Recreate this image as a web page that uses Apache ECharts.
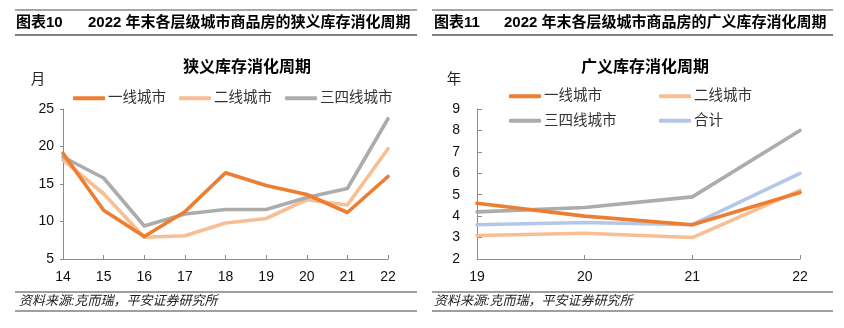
<!DOCTYPE html>
<html>
<head>
<meta charset="utf-8">
<script src="https://cdn.jsdelivr.net/npm/echarts@6/dist/echarts.min.js"></script>
<style>
html,body{margin:0;padding:0;background:#fff;}
#chart{width:844px;height:328px;}
</style>
</head>
<body>
<div id="chart"></div>
<script>
// ---- data ----
var yearsNarrow = ['14', '15', '16', '17', '18', '19', '20', '21', '22'];
var tier1Narrow = [19.1, 11.5, 8.0, 11.3, 16.5, 14.8, 13.6, 11.2, 16.0];
var tier2Narrow = [18.2, 13.7, 7.9, 8.1, 9.8, 10.4, 12.9, 12.2, 19.7];
var tier34Narrow = [18.6, 15.8, 9.4, 11.0, 11.6, 11.6, 13.2, 14.4, 23.7];

var yearsBroad = ['19', '20', '21', '22'];
var tier1Broad = [4.6, 4.0, 3.6, 5.1];
var tier2Broad = [3.1, 3.2, 3.0, 5.2];
var tier34Broad = [4.2, 4.4, 4.9, 8.0];
var totalBroad = [3.6, 3.7, 3.6, 6.0];

var colors = {'一线城市': '#ED7D31', '二线城市': '#F8BE94', '三四线城市': '#ACACAC', '合计': '#B4C7E7'};

var FONT = '"Liberation Sans", "Noto Sans CJK SC", sans-serif';
var axisColor = '#8C8C8C';

function lineSeries(name, data, gi) {
  return {
    type: 'line', name: name, data: data,
    xAxisIndex: gi, yAxisIndex: gi,
    symbol: 'none', smooth: false,
    lineStyle: {width: 3.6, color: colors[name], cap: 'round', join: 'round'},
    itemStyle: {color: colors[name]},
    emphasis: {disabled: true}
  };
}

function legendCfg(data, left, top, orient, gap) {
  return {
    data: data, left: left, top: top, orient: orient || 'horizontal',
    itemGap: gap, itemWidth: 32, itemHeight: 4, icon: 'roundRect',
    textStyle: {fontSize: 14.5, color: '#333', fontFamily: FONT, padding: [0, 0, 0, -2]},
    selectedMode: false
  };
}

var chart = echarts.init(document.getElementById('chart'), null, {renderer: 'canvas'});

var graphics = [];
function hline(x1, x2, y, color, w) {
  graphics.push({type: 'line', shape: {x1: x1, y1: y, x2: x2, y2: y}, style: {stroke: color, lineWidth: w}, silent: true});
}
function text(t, x, y, opts) {
  var st = {text: t, x: x, y: y, fill: opts.fill || '#000', fontSize: opts.size || 14,
            fontFamily: FONT, fontWeight: opts.weight || 'normal', fontStyle: opts.style || 'normal',
            align: opts.align || 'left', verticalAlign: 'middle'};
  graphics.push({type: 'text', style: st, silent: true});
}
// headers
hline(15, 417, 10, '#A6A6A6', 2);
hline(15, 417, 35, '#595959', 1.5);
hline(432, 833, 10, '#A6A6A6', 2);
hline(432, 833, 35, '#595959', 1.5);
text('图表10', 16, 22.5, {size: 15, weight: 'bold'});
text('2022 年末各层级城市商品房的狭义库存消化周期', 88, 22.5, {size: 15, weight: 'bold'});
text('图表11', 434, 22.5, {size: 15, weight: 'bold'});
text('2022 年末各层级城市商品房的广义库存消化周期', 504, 22.5, {size: 15, weight: 'bold'});
// chart titles
text('狭义库存消化周期', 247, 68, {size: 16, weight: 'bold', align: 'center'});
text('广义库存消化周期', 645, 68, {size: 16, weight: 'bold', align: 'center'});
// units
text('月', 38, 80, {size: 14.5, align: 'center', fill: '#222'});
text('年', 454, 80, {size: 14.5, align: 'center', fill: '#222'});
// footers
hline(15, 417, 292, '#404040', 1.2);
hline(15, 417, 311, '#404040', 1.2);
hline(432, 833, 292, '#404040', 1.2);
hline(432, 833, 311, '#404040', 1.2);
text('资料来源:克而瑞，平安证券研究所', 19, 301, {size: 13, style: 'italic', fill: '#222'});
text('资料来源:克而瑞，平安证券研究所', 434, 301, {size: 13, style: 'italic', fill: '#222'});

function xAxisCfg(data, gi) {
  return {
    type: 'category', data: data, gridIndex: gi, boundaryGap: false,
    axisLine: {show: true, lineStyle: {color: axisColor, width: 1}},
    axisTick: {show: true, inside: true, length: 4, alignWithLabel: true, lineStyle: {color: axisColor}},
    axisLabel: {fontSize: 14, color: '#111', fontFamily: FONT, margin: 11},
    splitLine: {show: false}
  };
}
function yAxisCfg(min, max, interval, gi, inside, margin) {
  return {
    type: 'value', min: min, max: max, interval: interval, gridIndex: gi,
    axisLine: {show: true, lineStyle: {color: axisColor, width: 1}},
    axisTick: {show: true, inside: inside, length: inside ? 5 : 3, lineStyle: {color: axisColor}},
    axisLabel: {fontSize: 14, color: '#111', fontFamily: FONT, margin: margin},
    splitLine: {show: false}
  };
}

var option = {
  animation: false,
  backgroundColor: '#fff',
  graphic: graphics,
  grid: [
    {left: 63, right: 456, top: 109, height: 150},
    {left: 477, right: 44, top: 109, height: 150}
  ],
  xAxis: [xAxisCfg(yearsNarrow, 0), xAxisCfg(yearsBroad, 1)],
  yAxis: [yAxisCfg(5, 25, 5, 0, false, 9), yAxisCfg(2, 9, 1, 1, true, 17)],
  legend: [
    legendCfg(['一线城市', '二线城市', '三四线城市'], 68, 86, 'horizontal', 13),
    legendCfg(['一线城市', '三四线城市'], 504, 84, 'vertical', 10),
    legendCfg(['二线城市', '合计'], 654, 84, 'vertical', 10)
  ],
  series: [
    lineSeries('二线城市', tier2Narrow, 0),
    lineSeries('三四线城市', tier34Narrow, 0),
    lineSeries('一线城市', tier1Narrow, 0),
    lineSeries('二线城市', tier2Broad, 1),
    lineSeries('三四线城市', tier34Broad, 1),
    lineSeries('合计', totalBroad, 1),
    lineSeries('一线城市', tier1Broad, 1)
  ]
};
chart.setOption(option);
</script>
</body>
</html>
